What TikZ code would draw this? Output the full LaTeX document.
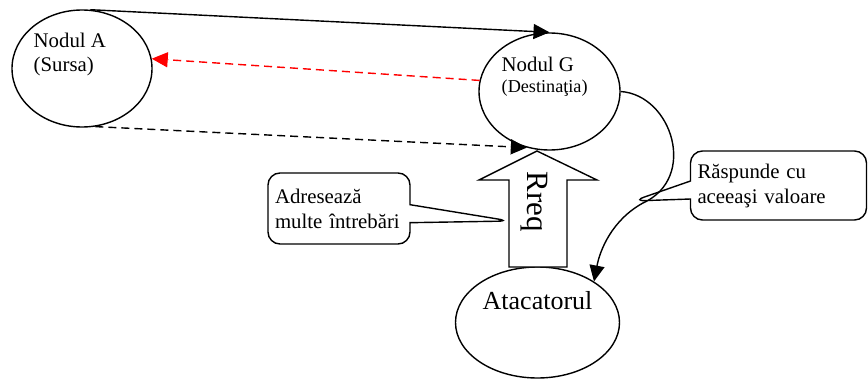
\documentclass[tikz,border=0pt]{standalone}
\usepackage{fontspec}
\setmainfont{Liberation Serif}
\usepackage{tikz}
\usetikzlibrary{arrows.meta,shapes.geometric,shapes.callouts}
\tikzset{baseline=(current bounding box.center), >/.tip={Triangle[length=8pt,width=7.5pt]}}
\tikzset{
  oval/.style={ellipse, draw, inner sep=0pt},
  txt/.style={inner sep=0pt, align=left, font=\fontsize{10.4}{12}\selectfont},
  bubble/.style={rectangle callout, draw, rounded corners=6pt, inner xsep=3.5pt,
    align=left, callout pointer width=9pt, font=\fontsize{10.4}{12.5}\selectfont}
}

\begin{document}
\begin{tikzpicture}[x=0.5pt, y=-0.5pt, line width=0.7pt]
 \useasboundingbox (0,0) rectangle (868,380);

 \node[oval, minimum width=70pt, minimum height=58.5pt]   (a)   at (82,68.5)    {};
 \node[oval, minimum width=70.5pt, minimum height=58.5pt] (g)   at (549.5,91.5) {};
 \node[oval, minimum width=82pt, minimum height=55.5pt]   (att) at (537.5,322.5) {};

 \node[txt, anchor=north west] (atxt) at (33,32) {Nodul A\\(Sursa)};
 \node[txt, anchor=north west, font=\fontsize{10.4}{10.5}\selectfont] (gtxt) at (501,56)
   {Nodul G\\{\fontsize{9.1}{10.5}\selectfont (Destinaţia)}};
 \node[txt, anchor=north west, font=\fontsize{13}{15}\selectfont] (atttxt) at (482,291) {Atacatorul};

 % request arrow
 \draw[fill=white] (537,151) -- (597,180) -- (567,180) -- (567,267)
   -- (509,267) -- (509,180) -- (479,180) -- cycle;
 \node[txt, rotate=-90, font=\fontsize{15.5}{17}\selectfont] (req) at (534,202) {Rreq};

 \coordinate (hit)  at (510,221);
 \coordinate (bend) at (643,203);
 \coordinate (hint) at (633,201);

 \path[->] (a.82) edge (g.north);
 \path[->] (g.171) edge [red, dash pattern=on 4pt off 2.5pt] (a.8);
 \path[->] (a.283) edge [dash pattern=on 4pt off 2.5pt] (g.248);
 \draw[->] (g.east) .. controls (672,95) and (698,178) .. (bend)
   .. controls (612,220) and (600,250) .. (att.36);

 \node[bubble, text width=64pt, minimum height=35.5pt, callout absolute pointer={(hit)}]
   (ask) at (339,208.5) {Adresează\\multe întrebări};
 \node[bubble, text width=81pt, minimum height=34.5pt, callout absolute pointer={(hint)}]
   (reply) at (778.5,185.5) {Răspunde cu\\aceeaşi valoare};
\end{tikzpicture}
\end{document}
